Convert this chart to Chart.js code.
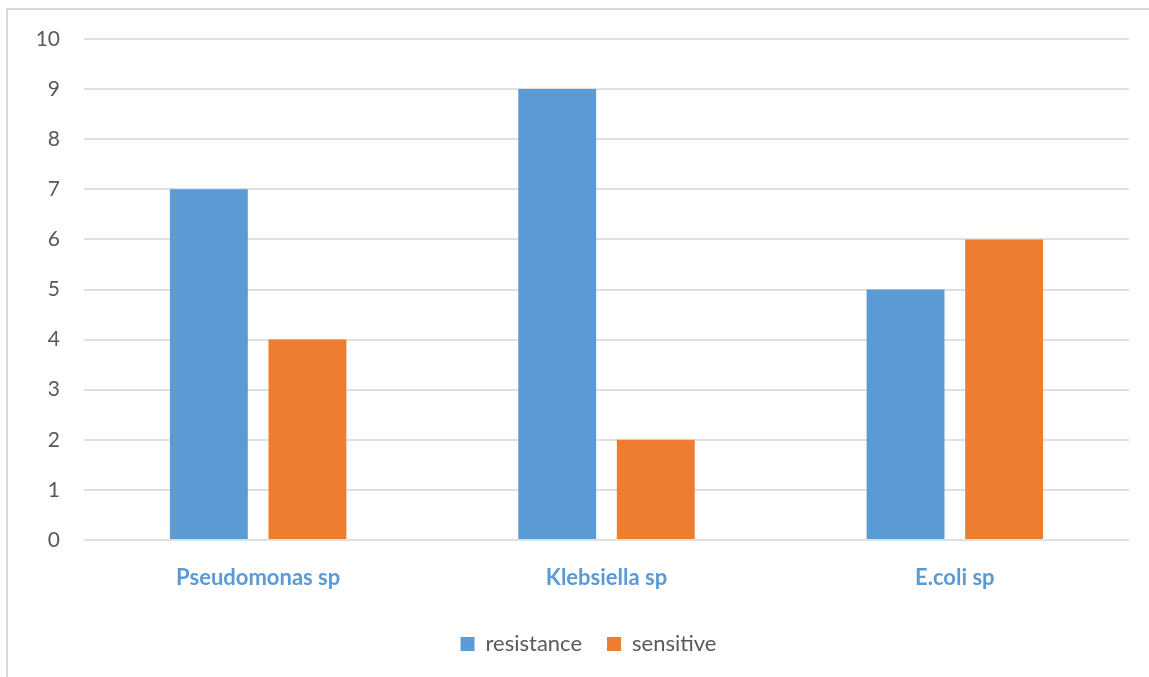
<!DOCTYPE html>
<html><head><meta charset="utf-8">
<script src="https://cdn.jsdelivr.net/npm/chart.js@4/dist/chart.umd.min.js"></script>
<style>html,body{margin:0;padding:0;background:#fff}#wrap{width:1149px;height:677px;position:relative}</style>
</head><body><div id="wrap"><canvas id="c" width="1149" height="677"></canvas></div>
<script>
const categories = ["Pseudomonas sp", "Klebsiella sp", "E.coli sp"];
const resistance = [7, 9, 5];
const sensitive = [4, 2, 6];
const yTicks = [0,1,2,3,4,5,6,7,8,9,10];

const frame = {
  id: 'frame',
  beforeDraw(chart) {
    const ctx = chart.ctx;
    ctx.save();
    ctx.fillStyle = '#fff';
    ctx.fillRect(0,0,chart.width,chart.height);
    ctx.strokeStyle = '#d9d9d9';
    ctx.lineWidth = 2;
    ctx.strokeRect(7, 9, 1160, 700);
    ctx.restore();
  },
  afterLayout(chart) {
    if (chart.legend) { chart.legend.left += 24; chart.legend.right += 24; }
  }
};

new Chart(document.getElementById('c'), {
  type: 'bar',
  data: {
    labels: categories,
    datasets: [
      {label: 'resistance', data: resistance, backgroundColor: '#5B9BD5', categoryPercentage: 0.566, barPercentage: 0.79},
      {label: 'sensitive', data: sensitive, backgroundColor: '#ED7D31', categoryPercentage: 0.566, barPercentage: 0.79}
    ]
  },
  options: {
    responsive: false,
    animation: false,
    layout: {padding: {left: 0, right: 20, top: 39, bottom: 12}},
    plugins: {
      tooltip: {enabled: false},
      legend: {
        position: 'bottom',
        labels: {
          font: {family: 'Lato, "Open Sans", sans-serif', size: 22},
          color: '#595959',
          boxWidth: 14, boxHeight: 14,
          padding: 25
        }
      }
    },
    scales: {
      x: {
        grid: {display: false},
        border: {display: false},
        afterFit(s) { s.height = 68; },
        ticks: {
          color: '#5B9BD5',
          font: {family: 'Lato, "Open Sans", sans-serif', size: 22, weight: 'bold'},
          padding: 17
        }
      },
      y: {
        min: 0, max: 10,
        afterFit(s) { s.width = 84; },
        afterBuildTicks(s) { s.ticks = yTicks.map(v => ({value: v})); },
        grid: {color: '#e0e0e0', lineWidth: 2, drawTicks: false},
        border: {display: false},
        ticks: {
          color: '#595959',
          font: {family: 'Lato, "Open Sans", sans-serif', size: 21},
          padding: 24
        }
      }
    }
  },
  plugins: [frame]
});
</script></body></html>
